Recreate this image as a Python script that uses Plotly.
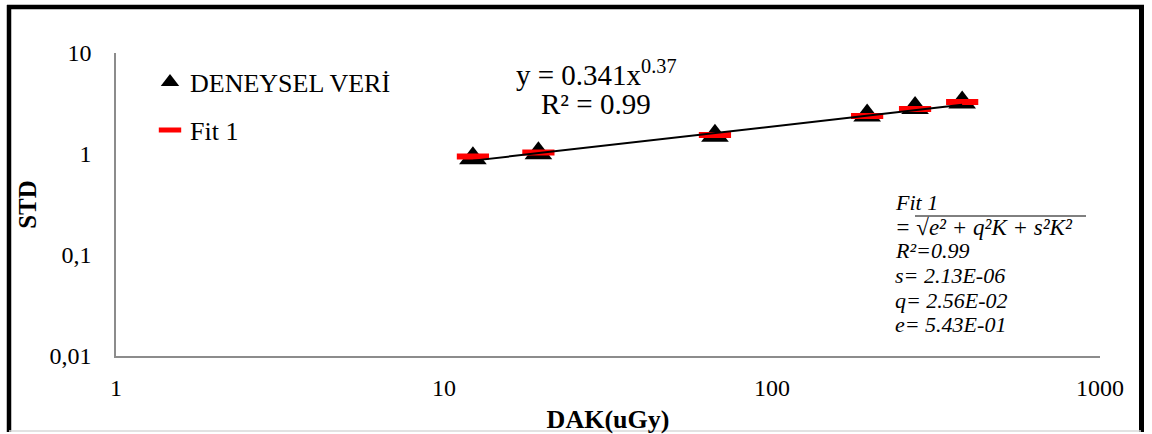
import plotly.graph_objects as go

# ---- data ----
dak = [12.25, 19.4, 67, 195, 273, 380]
std_data = [0.91, 1.02, 1.52, 2.40, 2.85, 3.24]
std_fit1 = [0.944, 1.035, 1.54, 2.38, 2.79, 3.27]
trend_x = [12.25, 380]
trend_y = [0.86, 3.07]

x_tickvals = [1, 10, 100, 1000]
x_ticktext = ["1", "10", "100", "1000"]
y_tickvals = [0.01, 0.1, 1, 10]
y_ticktext = ["0,01", "0,1", "1", "10"]

series_names = ["DENEYSEL VERİ", "Fit 1"]
eq_lines = ["y = 0.341x<sup>0.37</sup>", "R² = 0.99"]
fit_lines = [
    "<i>Fit 1</i>",
    "<i>= √e² + q²K + s²K²</i>",
    "<i>R²=0.99</i>",
    "<i>s= 2.13E-06</i>",
    "<i>q= 2.56E-02</i>",
    "<i>e= 5.43E-01</i>",
]

# ---- layout geometry (pixels) ----
W, H = 1152, 434
L, R, T, B = 116, 52, 53, 78
PW, PH = W - L - R, H - T - B
FONT = "Times New Roman"


def px_x(px):
    return (px - L) / PW


def px_y(py):
    return (H - B - py) / PH


fig = go.Figure()

fig.add_trace(go.Scatter(
    x=dak, y=std_data, mode="markers", name=series_names[0],
    marker=dict(symbol="triangle-up", size=24, color="black"),
    legend="legend",
))
fig.add_trace(go.Scatter(
    x=dak, y=std_fit1, mode="markers", name=series_names[1],
    marker=dict(symbol="line-ew", size=23, color="red",
                line=dict(color="red", width=6)),
    legend="legend2",
))
fig.add_trace(go.Scatter(
    x=trend_x, y=trend_y, mode="lines", showlegend=False,
    line=dict(color="black", width=2),
))

annotations = []
eq_y = [73, 104]
for txt, yy in zip(eq_lines, eq_y):
    annotations.append(dict(
        x=px_x(596), y=px_y(yy), xref="paper", yref="paper",
        xanchor="center", yanchor="middle", showarrow=False,
        text=txt, font=dict(family=FONT, size=29, color="black"),
    ))

fit_y = [202, 227, 250, 275, 300, 324]
fit_size = [22, 23, 22, 22, 22, 22]
for txt, yy, fs in zip(fit_lines, fit_y, fit_size):
    annotations.append(dict(
        x=px_x(893), y=px_y(yy), xref="paper", yref="paper",
        xanchor="left", yanchor="middle", showarrow=False,
        text=txt, font=dict(family=FONT, size=fs, color="black"),
    ))


def hline(x0, x1, y, color, width):
    return dict(type="line", xref="paper", yref="paper",
                x0=px_x(x0), x1=px_x(x1), y0=px_y(y), y1=px_y(y),
                line=dict(color=color, width=width))


def vline(x, y0, y1, color, width):
    return dict(type="line", xref="paper", yref="paper",
                x0=px_x(x), x1=px_x(x), y0=px_y(y0), y1=px_y(y1),
                line=dict(color=color, width=width))


shapes = [
    vline(9, 5, 432, "black", 4.5),
    hline(7, 1144, 7, "black", 4.5),
    vline(1141.5, 5, 432, "black", 5),
    hline(9, 1141, 431, "#d9d9d9", 1.5),
    hline(915, 1086, 216, "black", 1),
]

fig.update_layout(
    width=W, height=H, autosize=False,
    margin=dict(l=L, r=R, t=T, b=B, pad=0),
    paper_bgcolor="white", plot_bgcolor="white",
    font=dict(family=FONT, color="black"),
    xaxis=dict(
        type="log", range=[0, 3], showgrid=False, zeroline=False,
        showline=True, linecolor="#8c8c8c", linewidth=1.5, ticks="",
        tickvals=x_tickvals, ticktext=x_ticktext, automargin=False,
        tickfont=dict(family=FONT, size=24, color="black"),
        ticklabelstandoff=9,
        title=dict(text="<b>DAK(uGy)</b>", font=dict(family=FONT, size=26, color="black"),
                   standoff=13),
    ),
    yaxis=dict(
        type="log", range=[-2, 1], showgrid=False, zeroline=False,
        showline=True, linecolor="#8c8c8c", linewidth=1.5, ticks="",
        tickvals=y_tickvals, ticktext=y_ticktext, automargin=False,
        tickfont=dict(family=FONT, size=24, color="black"),
        ticklabelstandoff=18,
        title=dict(text="<b>STD</b>", font=dict(family=FONT, size=25, color="black"),
                   standoff=6),
    ),
    legend=dict(x=px_x(150), y=px_y(82), xanchor="left", yanchor="middle",
                bgcolor="rgba(0,0,0,0)", font=dict(family=FONT, size=26, color="black")),
    legend2=dict(x=px_x(150), y=px_y(130), xanchor="left", yanchor="middle",
                 bgcolor="rgba(0,0,0,0)", font=dict(family=FONT, size=26, color="black")),
    annotations=annotations,
    shapes=shapes,
)

fig.write_html("out.html")
